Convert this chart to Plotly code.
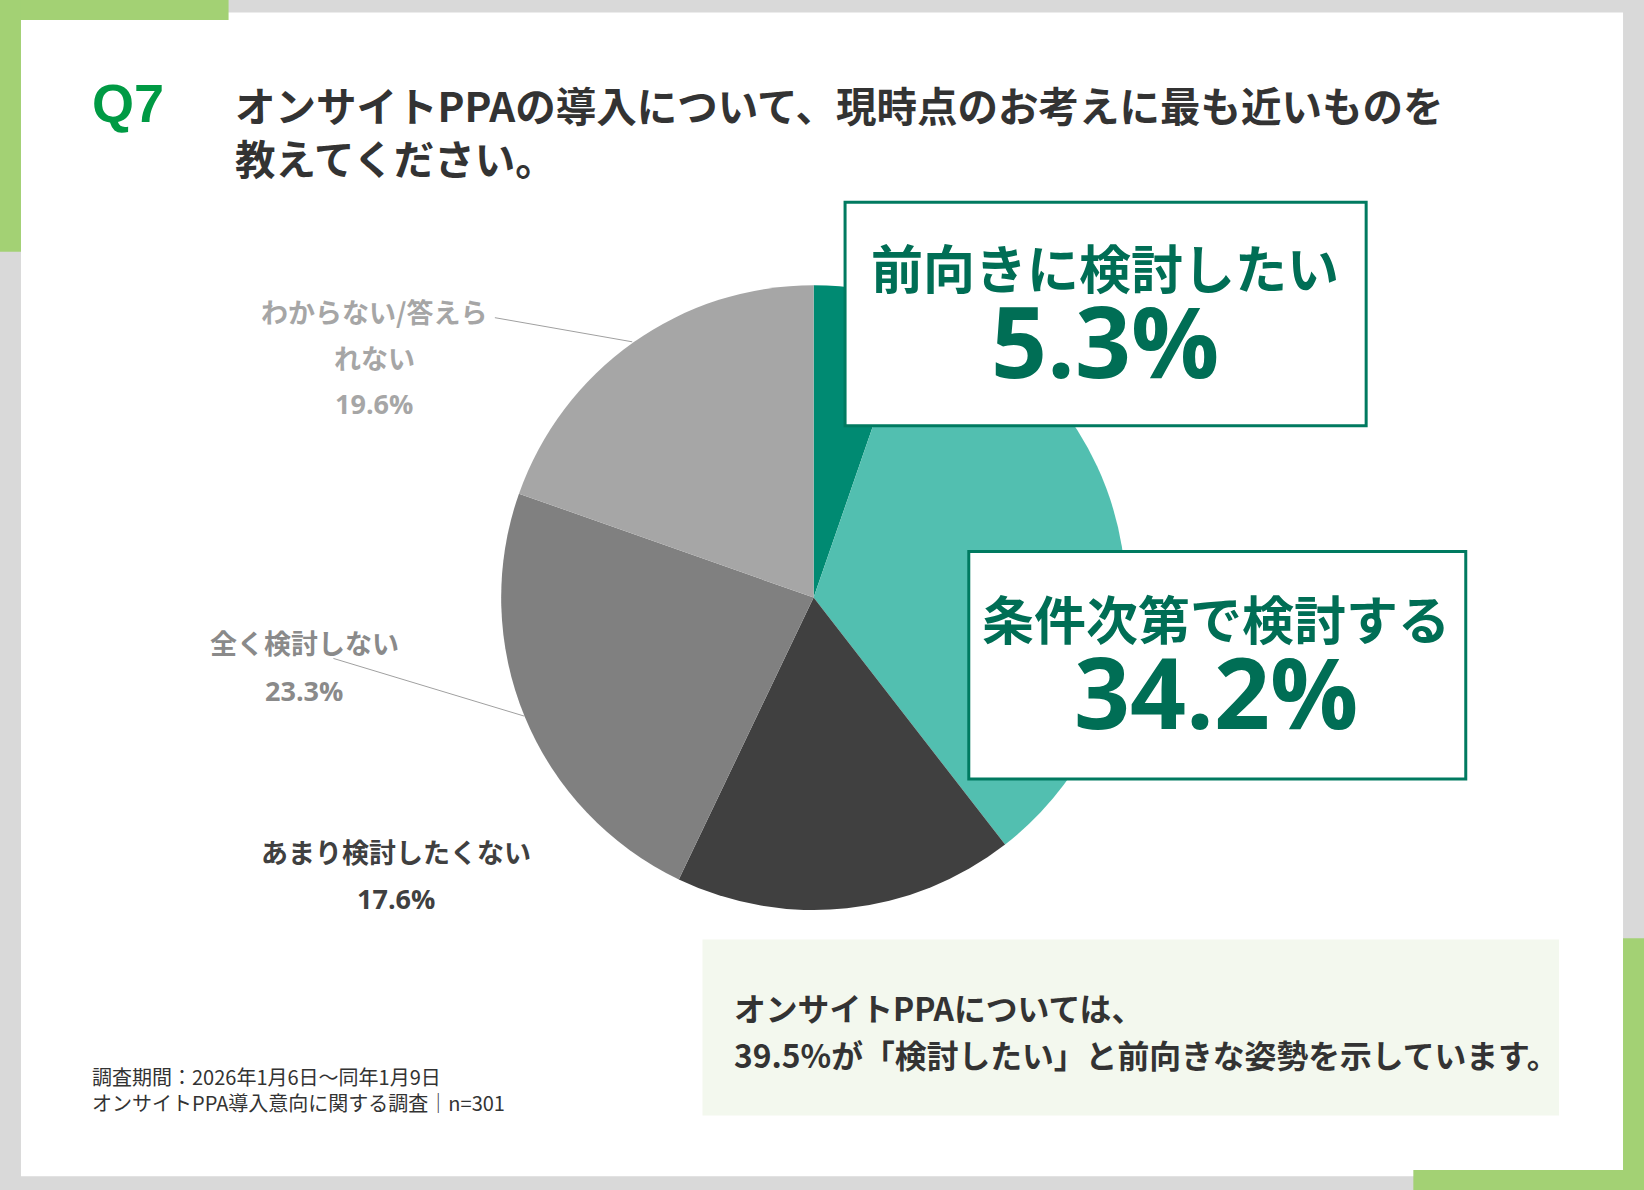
import plotly.graph_objects as go

# data
categories = ["前向きに検討したい", "条件次第で検討する", "あまり検討したくない",
              "全く検討しない", "わからない/答えられない"]
values = [5.3, 34.2, 17.6, 23.3, 19.6]
colors = ["#008a72", "#52bfb0", "#404040", "#808080", "#a6a6a6"]

title_q = "Q7"
title_lines = ["オンサイトPPAの導入について、現時点のお考えに最も近いものを", "教えてください。"]
note_lines = ["調査期間：2026年1月6日～同年1月9日", "オンサイトPPA導入意向に関する調査│n=301"]
summary_lines = ["オンサイトPPAについては、", "39.5%が「検討したい」と前向きな姿勢を示しています。"]

W, H = 1644, 1190
RW, RH = 1568, 1135  # reference layout grid


def X(v):
    return v / RW


def Y(v):
    return 1 - v / RH


JP = "Noto Sans CJK JP"
NUM = "Open Sans"
GREEN = "#a3d174"
TEAL_TXT = "#006e55"

fig = go.Figure()
fig.add_trace(go.Pie(
    labels=categories, values=values, sort=False, direction="clockwise", rotation=0,
    marker=dict(colors=colors, line=dict(width=0)),
    textinfo="none", hoverinfo="skip", showlegend=False,
    domain=dict(x=[X(478), X(1074)], y=[Y(868), Y(272)]),
))

shapes = [
    # frame
    dict(type="rect", x0=0, x1=1, y0=0, y1=1, fillcolor="#d9d9d9"),
    dict(type="rect", x0=X(20), x1=X(1548), y0=Y(1122), y1=Y(12), fillcolor="white"),
    dict(type="rect", x0=0, x1=X(218), y0=Y(19), y1=1, fillcolor=GREEN),
    dict(type="rect", x0=0, x1=X(20), y0=Y(240), y1=1, fillcolor=GREEN),
    dict(type="rect", x0=X(1548), x1=1, y0=0, y1=Y(895), fillcolor=GREEN),
    dict(type="rect", x0=X(1348), x1=1, y0=0, y1=Y(1116), fillcolor=GREEN),
    # summary panel
    dict(type="rect", x0=X(670), x1=X(1487), y0=Y(1064), y1=Y(896), fillcolor="#f3f8ee"),
]
for s in shapes:
    s.update(xref="paper", yref="paper", layer="below", line=dict(width=0))

# callout boxes
for x0, x1, y0, y1 in [(806, 1303, 193, 406), (924, 1398, 526, 743)]:
    shapes.append(dict(type="rect", xref="paper", yref="paper", layer="above",
                       x0=X(x0), x1=X(x1), y0=Y(y1), y1=Y(y0), fillcolor="white",
                       line=dict(color="#007a60", width=3)))

# leader lines
for x0, y0, x1, y1 in [(472, 303, 603, 326), (318, 628, 500, 683)]:
    shapes.append(dict(type="line", xref="paper", yref="paper", layer="above",
                       x0=X(x0), y0=Y(y0), x1=X(x1), y1=Y(y1),
                       line=dict(color="#a0a0a0", width=1)))

ann = []


def txt(text, x, y, size, color, family=JP, weight=700, xanchor="left"):
    ann.append(dict(text=text, x=X(x), y=Y(y), xref="paper", yref="paper",
                    xanchor=xanchor, yanchor="middle", showarrow=False, align="left",
                    font=dict(family=family, size=size, color=color, weight=weight)))


txt(title_q, 86, 98, 54, "#009a44", family="Liberation Sans")
txt("<br>".join(title_lines), 222, 125, 40.5, "#333333")

# callouts
txt(categories[0], 1054, 254, 52, TEAL_TXT, xanchor="center")
txt(f"{values[0]}%", 1054, 324, 98, TEAL_TXT, family=NUM, xanchor="center")
txt(categories[1], 1160, 589, 52, TEAL_TXT, xanchor="center")
txt(f"{values[1]}%", 1160, 659, 98, TEAL_TXT, family=NUM, xanchor="center")

# outside labels
txt("わからない/答えら", 357, 297, 27, "#a6a6a6", xanchor="center")
txt("れない", 357, 341, 27, "#a6a6a6", xanchor="center")
txt(f"{values[4]}%", 357, 385, 27, "#a6a6a6", family=NUM, xanchor="center")
txt(categories[3], 290, 613, 27, "#8a8a8a", xanchor="center")
txt(f"{values[3]}%", 290, 659, 27, "#8a8a8a", family=NUM, xanchor="center")
txt(categories[2], 378, 812, 27, "#404040", xanchor="center")
txt(f"{values[2]}%", 378, 857, 27, "#404040", family=NUM, xanchor="center")

# summary
txt(summary_lines[0], 698, 960, 31.8, "#333333")
txt(summary_lines[1], 698, 1005, 31.8, "#333333")

# note
txt(note_lines[0], 86, 1027, 20, "#333333", weight=400)
txt(note_lines[1], 86, 1052, 20, "#333333", weight=400)

fig.update_layout(
    width=W, height=H, margin=dict(l=0, r=0, t=0, b=0),
    paper_bgcolor="white", plot_bgcolor="white",
    shapes=shapes, annotations=ann,
)

fig.write_html("out.html", config={"displayModeBar": False},
               post_script="document.body.style.margin='0';")
